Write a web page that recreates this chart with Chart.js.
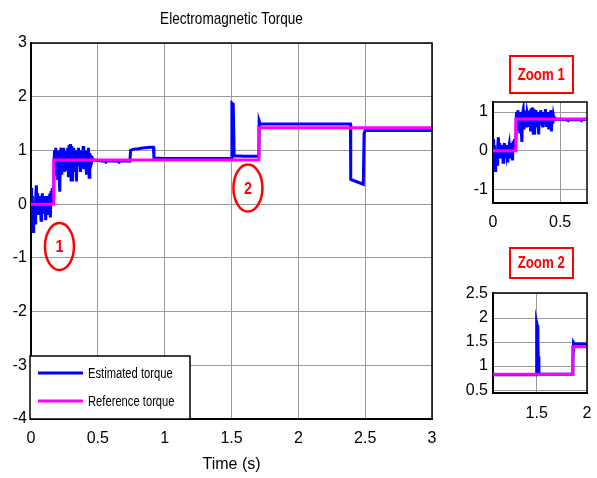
<!DOCTYPE html>
<html>
<head>
<meta charset="utf-8">
<script src="https://cdn.jsdelivr.net/npm/chart.js@4.4.0/dist/chart.umd.min.js"></script>
<style>
body { margin: 0; background: #fff; }
#wrap { position: relative; width: 597px; height: 478px; overflow: hidden; background: #fff; }
canvas { position: absolute; }
.zoomLabel {
    position: absolute; box-sizing: border-box; border: 2.5px solid #f00; background: #fff;
    color: #f00; font: bold 17px 'Liberation Sans Narrow', 'Arial Narrow', 'Liberation Sans', sans-serif;
    display: flex; align-items: center; justify-content: center;
}
.zoomLabel span { display: inline-block; transform: scaleX(0.78); white-space: nowrap; }
</style>
</head>
<body>
<div id="wrap">
    <canvas id="mainChart" width="447" height="478" style="left:0;top:0"></canvas>
    <canvas id="zoom1Chart" width="157" height="148" style="left:440px;top:87px"></canvas>
    <canvas id="zoom2Chart" width="163" height="148" style="left:440px;top:278px"></canvas>
    <div class="zoomLabel" style="left:509px;top:55px;width:65px;height:39px"><span>Zoom 1</span></div>
    <div class="zoomLabel" style="left:509px;top:247px;width:65px;height:32px"><span>Zoom 2</span></div>
</div>
<script>
const FONT = "'Liberation Sans Narrow', 'Arial Narrow', 'Liberation Sans', sans-serif";
Chart.defaults.font.family = FONT;
Chart.defaults.color = '#000';

// estimated torque (blue)
const estTime = [
    0.000, 0.005, 0.010, 0.015, 0.020, 0.025, 0.030, 0.035, 0.040, 0.045,
    0.050, 0.055, 0.060, 0.065, 0.070, 0.075, 0.080, 0.085, 0.090, 0.095,
    0.100, 0.105, 0.110, 0.115, 0.120, 0.125, 0.130, 0.135, 0.140, 0.145,
    0.150, 0.155, 0.160, 0.165, 0.170, 0.175, 0.180, 0.185, 0.190, 0.195,
    0.200, 0.205, 0.210, 0.215, 0.220, 0.225, 0.230, 0.235, 0.240, 0.245,
    0.250, 0.255, 0.260, 0.265, 0.270, 0.275, 0.280, 0.285, 0.290, 0.295,
    0.300, 0.305, 0.310, 0.315, 0.320, 0.325, 0.330, 0.335, 0.340, 0.345,
    0.350, 0.355, 0.360, 0.365, 0.370, 0.375, 0.380, 0.385, 0.390, 0.395,
    0.400, 0.405, 0.410, 0.415, 0.420, 0.425, 0.430, 0.435, 0.440, 0.445,
    0.450, 0.455, 0.460, 0.470, 0.550, 0.560, 0.570, 0.650, 0.660, 0.670,
    0.740, 0.745, 0.760, 0.800, 0.850, 0.900, 0.915, 0.920, 1.000, 1.500,
    1.503, 1.513, 1.520, 1.600, 1.705, 1.707, 1.715, 2.000, 2.390, 2.392,
    2.486, 2.492, 2.500, 3.000
];
const estTorque = [
    0.30, -0.05, 0.15, -0.51, -0.15, 0.05, -0.35, 0.10, 0.35, -0.05,
    0.20, -0.20, 0.10, -0.05, 0.15, -0.30, 0.05, 0.20, -0.15, 0.10,
    -0.05, 0.15, -0.30, 0.05, 0.15, -0.20, 0.05, -0.10, 0.20, -0.25,
    0.25, 0.00, 0.30, 0.10, 0.20, 1.00, 0.55, 1.05, 0.70, 1.00,
    0.45, 0.95, 0.60, 0.23, 0.95, 1.05, 0.55, 1.00, 0.75, 1.05,
    0.60, 0.95, 0.85, 1.00, 0.65, 1.05, 0.50, 1.10, 0.55, 1.12,
    0.45, 1.08, 0.42, 1.05, 0.60, 0.95, 0.75, 1.00, 0.42, 0.95,
    0.70, 1.05, 0.80, 0.95, 0.60, 1.00, 0.85, 0.70, 1.08, 0.65,
    0.95, 0.75, 1.00, 0.55, 0.95, 0.80, 1.05, 0.50, 0.95, 0.70,
    0.90, 0.80, 0.85, 0.82, 0.80, 0.78, 0.81, 0.80, 0.78, 0.81,
    0.80, 1.00, 1.02, 1.03, 1.05, 1.06, 1.06, 0.86, 0.85, 0.85,
    1.88, 1.86, 0.90, 0.89, 0.89, 1.55, 1.49, 1.49, 1.49, 0.46,
    0.37, 1.32, 1.37, 1.37
];

// reference torque (magenta)
const refTime = [0, 0.17, 0.17, 1.705, 1.705, 3];
const refTorque = [0, 0, 0.82, 0.82, 1.42, 1.42];

// zoom 2 as it is drawn in the inset
const zoom2EstTime = [1.066, 1.497, 1.500, 1.505, 1.512, 1.516, 1.522, 1.535, 1.856, 1.860, 1.866, 1.875, 2.000];
const zoom2EstTorque = [0.82, 0.82, 1.90, 1.85, 1.50, 1.20, 0.86, 0.83, 0.83, 1.10, 1.49, 1.46, 1.46];
const zoom2RefTime = [1.066, 1.858, 1.858, 2.0];
const zoom2RefTorque = [0.83, 0.83, 1.40, 1.40];

// tick values
const mainXTicks = [0, 0.5, 1, 1.5, 2, 2.5, 3];
const mainYTicks = [-4, -3, -2, -1, 0, 1, 2, 3];
const zoom1XTicks = [0, 0.5];
const zoom1YTicks = [-1, 0, 1];
const zoom2XTicks = [1.5, 2];
const zoom2YTicks = [0.5, 1, 1.5, 2, 2.5];

// circled markers on the main plot
const markers = [
    {label: '1', t: 0.213, v: -0.79},
    {label: '2', t: 1.623, v: 0.30}
];

function pts(xs, ys) {
    return xs.map((x, i) => ({x: x, y: ys[i]}));
}

function lineSet(label, xs, ys, color, order) {
    return {
        label: label, data: pts(xs, ys), borderColor: color, backgroundColor: color,
        borderWidth: 3, pointRadius: 0, tension: 0, fill: false, order: order
    };
}

function axis(min, max, ticks, pad, fit) {
    return {
        type: 'linear', min: min, max: max,
        afterBuildTicks: s => { s.ticks = ticks.map(v => ({value: v})); },
        afterFit: fit,
        ticks: {padding: pad, color: '#000', font: {size: 16}, callback: v => String(v)},
        grid: {color: '#9a9a9a', drawTicks: false, lineWidth: 1},
        border: {color: '#000', width: 2}
    };
}

// narrow text: squeeze horizontally since no narrow face is installed
function narrowText(ctx, text, x, y, squeeze) {
    ctx.save();
    ctx.translate(x, y);
    ctx.scale(squeeze, 1);
    ctx.fillText(text, 0, 0);
    ctx.restore();
}

const boxPlugin = {
    id: 'box',
    afterDatasetsDraw(chart) {
        const ca = chart.chartArea;
        const ctx = chart.ctx;
        ctx.save();
        ctx.strokeStyle = '#000';
        ctx.lineWidth = 1.5;
        ctx.beginPath();
        ctx.moveTo(ca.left, ca.top);
        ctx.lineTo(ca.right, ca.top);
        ctx.lineTo(ca.right, ca.bottom);
        ctx.stroke();
        ctx.restore();
    }
};

const mainDecor = {
    id: 'mainDecor',
    afterDraw(chart) {
        const ca = chart.chartArea;
        const ctx = chart.ctx;
        const xs = chart.scales.x, ys = chart.scales.y;
        ctx.save();

        // title
        ctx.fillStyle = '#000';
        ctx.font = '17px ' + FONT;
        ctx.textAlign = 'center';
        ctx.textBaseline = 'middle';
        narrowText(ctx, 'Electromagnetic Torque', (ca.left + ca.right) / 2, 19, 0.8);

        // red circled numbers
        markers.forEach(m => {
            const px = xs.getPixelForValue(m.t);
            const py = ys.getPixelForValue(m.v);
            ctx.strokeStyle = '#ff0000';
            ctx.lineWidth = 2.5;
            ctx.beginPath();
            ctx.ellipse(px, py, 14.5, 23.5, 0, 0, Math.PI * 2);
            ctx.stroke();
            ctx.fillStyle = '#ff0000';
            ctx.font = 'bold 17px ' + FONT;
            narrowText(ctx, m.label, px, py + 1, 0.85);
        });

        // legend
        const lx = ca.left - 1, lw = 160, lh = 63;
        const ly = ca.bottom - lh;
        ctx.fillStyle = '#fff';
        ctx.fillRect(lx, ly, lw, lh);
        ctx.strokeStyle = '#000';
        ctx.lineWidth = 1.5;
        ctx.strokeRect(lx, ly, lw, lh);
        chart.data.datasets.forEach((ds, i) => {
            const y = ly + 17 + i * 28;
            ctx.strokeStyle = ds.borderColor;
            ctx.lineWidth = 3;
            ctx.beginPath();
            ctx.moveTo(lx + 8, y);
            ctx.lineTo(lx + 53, y);
            ctx.stroke();
            ctx.fillStyle = '#000';
            ctx.font = '14px ' + FONT;
            ctx.textAlign = 'left';
            narrowText(ctx, ds.label, lx + 58, y + 1, 0.8);
        });
        ctx.restore();
    }
};

const common = {
    responsive: false,
    animation: false,
    events: [],
    plugins: {legend: {display: false}, tooltip: {enabled: false}, title: {display: false}}
};

const mainX = axis(0, 3, mainXTicks, 10, s => { s.height = 59; });
mainX.title = {display: true, text: 'Time (s)', color: '#000', font: {size: 16}, padding: {top: 0, bottom: 4}};
const mainY = axis(-4, 3, mainYTicks, 4, s => { s.width = 31; });

new Chart(document.getElementById('mainChart'), {
    type: 'line',
    data: {
        datasets: [
            lineSet('Estimated torque', estTime, estTorque, '#0000ff', 1),
            lineSet('Reference torque', refTime, refTorque, '#ff00ff', 0)
        ]
    },
    options: Object.assign({}, common, {
        layout: {padding: {top: 43, right: 15, left: 0, bottom: 0}},
        scales: {x: mainX, y: mainY}
    }),
    plugins: [boxPlugin, mainDecor]
});

new Chart(document.getElementById('zoom1Chart'), {
    type: 'line',
    data: {
        datasets: [
            lineSet('Estimated torque', estTime, estTorque, '#0000ff', 1),
            lineSet('Reference torque', refTime, refTorque, '#ff00ff', 0)
        ]
    },
    options: Object.assign({}, common, {
        layout: {padding: {top: 15, right: 10, left: 0, bottom: 0}},
        scales: {
            x: axis(0, 0.70, zoom1XTicks, 10, s => { s.height = 32; }),
            y: axis(-1.35, 1.26, zoom1YTicks, 5, s => { s.width = 53; })
        }
    }),
    plugins: [boxPlugin]
});

new Chart(document.getElementById('zoom2Chart'), {
    type: 'line',
    data: {
        datasets: [
            lineSet('Estimated torque', zoom2EstTime, zoom2EstTorque, '#0000ff', 1),
            lineSet('Reference torque', zoom2RefTime, zoom2RefTorque, '#ff00ff', 0)
        ]
    },
    options: Object.assign({}, common, {
        layout: {padding: {top: 15, right: 16, left: 0, bottom: 0}},
        scales: {
            x: axis(1.066, 2.0, zoom2XTicks, 11, s => { s.height = 33; }),
            y: axis(0.44, 2.52, zoom2YTicks, 5, s => { s.width = 53; })
        }
    }),
    plugins: [boxPlugin]
});
</script>
</body>
</html>
